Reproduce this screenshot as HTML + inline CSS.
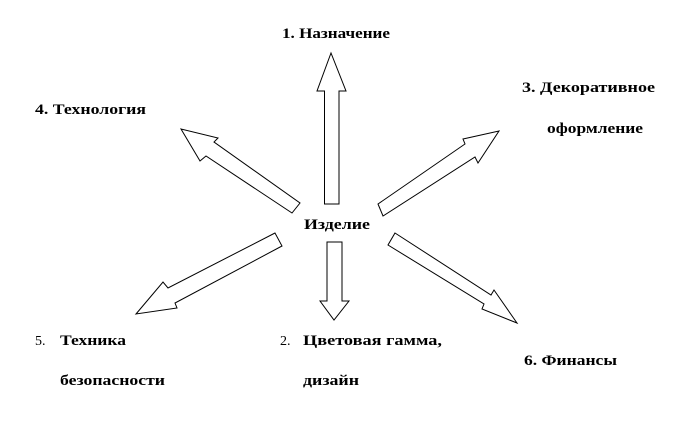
<!DOCTYPE html>
<html><head><meta charset="utf-8"><style>html,body{margin:0;padding:0;background:#fff}svg{display:block}text{font-family:"Liberation Serif","Times New Roman",serif;font-size:15px;font-weight:bold}text.n{font-weight:normal;font-size:14px}</style></head>
<body>
<svg width="679" height="431" viewBox="0 0 679 431" xmlns="http://www.w3.org/2000/svg" fill="#000">
<g fill="#fff" stroke="#000" stroke-width="1">
<polygon points="324.5,204 324.5,91 317,91 331,53 346,91 339,91 339,204"/>
<polygon points="327,242 342,242 342,301 349,301 334,320 320,301 327,301"/>
<polygon points="292,213 206,156 200,161 181,129 218,138 214,142 300,203"/>
<polygon points="378,204 465,144 463,139 499,131 478,163 475,157 383,216"/>
<polygon points="275,233 168,288 163,282 136,314 177,308 175,303 282,246"/>
<polygon points="395,233 491,295 494,290 517,323 482,309 484,304 388,245"/>
</g>
<text x="282" y="38" textLength="108" lengthAdjust="spacingAndGlyphs">1. Назначение</text>
<text x="35" y="114" textLength="111" lengthAdjust="spacingAndGlyphs">4. Технология</text>
<text x="522" y="92" textLength="133" lengthAdjust="spacingAndGlyphs">3. Декоративное</text>
<text x="547" y="133" textLength="96" lengthAdjust="spacingAndGlyphs">оформление</text>
<text x="304" y="229" textLength="66" lengthAdjust="spacingAndGlyphs">Изделие</text>
<text class="n" x="35" y="345">5.</text>
<text x="60" y="345" textLength="66" lengthAdjust="spacingAndGlyphs">Техника</text>
<text x="60" y="385" textLength="105" lengthAdjust="spacingAndGlyphs">безопасности</text>
<text class="n" x="280" y="345">2.</text>
<text x="303" y="345" textLength="139" lengthAdjust="spacingAndGlyphs">Цветовая гамма,</text>
<text x="303" y="385" textLength="56" lengthAdjust="spacingAndGlyphs">дизайн</text>
<text x="524" y="365" textLength="93" lengthAdjust="spacingAndGlyphs">6. Финансы</text>
</svg>
</body></html>
